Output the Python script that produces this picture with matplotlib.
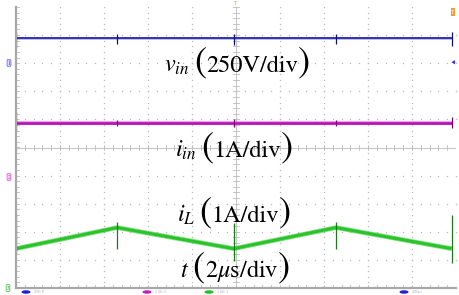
import numpy as np
import matplotlib
matplotlib.use("Agg")
import matplotlib.pyplot as plt
from matplotlib.patches import Ellipse

# time axis in microseconds (10 div x 2 us), vertical axis in divisions
T_SPAN = 20.0
V_DIVS = 5.0

# switching instants (us)
switch_t = [0.0, 4.6, 9.9, 14.55, 19.8]

# vin trace (blue), level in divisions
vin_t = [0.0, 19.8]
vin_v = [3.88, 3.88]
vin_spike_lo = [3.55, 3.7, 3.65, 3.7, 3.6]
vin_spike_hi = [4.15, 4.05, 4.05, 4.05, 4.1]

# iin trace (magenta)
iin_t = [0.0, 19.8]
iin_v = [0.87, 0.87]
iin_spike_lo = [0.55, 0.75, 0.72, 0.75, 0.7]
iin_spike_hi = [1.25, 0.98, 1.0, 0.98, 1.1]

# iL trace (green), triangular
il_t = [0.0, 4.6, 9.9, 14.55, 19.8]
il_v = [-3.6, -2.85, -3.6, -2.85, -3.6]
il_spike_lo = [-3.8, -3.6, -4.05, -3.6, -4.1]
il_spike_hi = [-2.4, -2.65, -2.7, -2.65, -2.4]

# labels: symbol, scale text, centre (pixels in the 459x295 image)
label_sym = [r"$v_{in}$", r"$i_{in}$", r"$i_{L}$", r"$t$"]
label_scale = ["250V/div", "1A/div", "1A/div", r"$2\mu$s/div"]
label_px = [(237, 72), (234, 157), (234, 222), (235, 277)]

plt.rcParams["mathtext.fontset"] = "stix"
plt.rcParams["font.family"] = "STIXGeneral"

W, H = 459, 295
fig = plt.figure(figsize=(W / 100, H / 100), dpi=100)
fig.patch.set_facecolor("white")
ax = fig.add_axes([16 / W, (H - 288) / H, 440 / W, 281 / H])
ax.set_xlim(0, T_SPAN)
ax.set_ylim(-V_DIVS, V_DIVS)
ax.set_xticks([])
ax.set_yticks([])
for s in ["top", "right"]:
    ax.spines[s].set_visible(False)
for s in ["left", "bottom"]:
    ax.spines[s].set_color("#a8a8a8")
    ax.spines[s].set_linewidth(1.6)

# graticule: dotted major lines
grid_c = "#b8b8b8"
xs_minor = np.arange(0, T_SPAN + 0.01, 0.4)
ys_minor = np.arange(-V_DIVS, V_DIVS + 0.01, 0.2)
for gx in np.arange(2, T_SPAN, 2):
    if abs(gx - 10) < 1e-6:
        continue
    ax.plot(np.full_like(ys_minor, gx), ys_minor, ls="none", marker="s",
            ms=0.9, color=grid_c, mew=0)
for gy in np.arange(-4, V_DIVS, 1):
    if abs(gy) < 1e-6:
        continue
    ax.plot(xs_minor, np.full_like(xs_minor, gy), ls="none", marker="s",
            ms=0.9, color=grid_c, mew=0)
# centre cross with ticks
ax.axhline(0, color="#c8c8c8", lw=0.8)
ax.axvline(10, color="#c8c8c8", lw=0.8)
for mx in xs_minor:
    ax.plot([mx, mx], [-0.08, 0.08], color="#bcbcbc", lw=0.6)
    ax.plot([mx, mx], [-V_DIVS, -V_DIVS + 0.12], color="#bcbcbc", lw=0.6)
for my in ys_minor:
    ax.plot([9.85, 10.15], [my, my], color="#bcbcbc", lw=0.6)
    ax.plot([0, 0.12], [my, my], color="#bcbcbc", lw=0.6)

# traces
ax.plot(vin_t, vin_v, color="#6060c8", lw=2.0, alpha=0.45, solid_capstyle="butt")
ax.plot(vin_t, vin_v, color="#1c1ca8", lw=1.2, solid_capstyle="butt")
ax.vlines(switch_t, vin_spike_lo, vin_spike_hi, color="#101070", lw=0.9)

ax.plot(iin_t, iin_v, color="#d050d0", lw=3.0, alpha=0.5, solid_capstyle="butt")
ax.plot(iin_t, iin_v, color="#b810b8", lw=1.9, solid_capstyle="butt")
ax.vlines(switch_t, iin_spike_lo, iin_spike_hi, color="#800080", lw=0.9)

ax.plot(il_t, il_v, color="#55d055", lw=3.4, alpha=0.7, solid_capstyle="butt")
ax.plot(il_t, il_v, color="#2ac42a", lw=2.2, solid_capstyle="butt")
ax.vlines(switch_t, il_spike_lo, il_spike_hi, color="#1a7a1a", lw=0.9)


def px(x, y):
    return x / W, 1 - y / H


# waveform labels, built piece by piece so the brackets can be large
fig.canvas.draw()
rend = fig.canvas.get_renderer()
for sym, scale, (cx, by) in zip(label_sym, label_scale, label_px):
    pieces = [(sym, 17.5, 4), ("(", 26, 0), (scale, 17.5, 0), (")", 26, 0)]
    objs = []
    for s, fs, gap in pieces:
        t = fig.text(0, 0, s, fontsize=fs, ha="left", va="baseline", color="black")
        objs.append((t, gap))
    widths = [t.get_window_extent(rend).width + g for t, g in objs]
    x0 = cx - sum(widths) / 2
    for (t, g), w in zip(objs, widths):
        t.set_position(px(x0, by))
        x0 += w

# scope markers around the screen
fig.text(*px(9, 63), "1", fontsize=4, color="#3030e0", ha="center", va="center",
         bbox=dict(boxstyle="round,pad=0.1", fc="#e0e0ff", ec="#3030e0", lw=0.4))
fig.text(*px(9, 177), "2", fontsize=4, color="#c020c0", ha="center", va="center",
         bbox=dict(boxstyle="round,pad=0.1", fc="#ffe0ff", ec="#c020c0", lw=0.4))
fig.text(*px(8, 288), "3", fontsize=4, color="#20a020", ha="center", va="center",
         bbox=dict(boxstyle="round,pad=0.1", fc="#e0ffe0", ec="#20a020", lw=0.4))
fig.text(*px(236, 3), "T", fontsize=4, color="#f09020", ha="center", va="center")
fig.text(*px(453, 12), "T", fontsize=4, color="white", ha="center", va="center",
         bbox=dict(boxstyle="square,pad=0.15", fc="#f0a030", ec="none"))
fig.text(*px(453, 63), "\u25c2", fontsize=5, color="#3030e0", ha="center", va="center")

# status strip
strip = [(22, "#2020e0", "250 V"), (143, "#c020c0", "1.00 A"),
         (205, "#20c020", "1.00 A"), (400, "#2020e0", "2.00\u00b5s")]
for sx, sc, st in strip:
    fig.patches.append(Ellipse(px(sx + 4, 292), 9 / W, 3.5 / H,
                               transform=fig.transFigure, fc=sc, ec="none"))
    fig.text(*px(sx + 12, 292.5), st, fontsize=3, color="#a0a0c0", va="center")

fig.savefig("out.png", dpi=100, facecolor="white")
